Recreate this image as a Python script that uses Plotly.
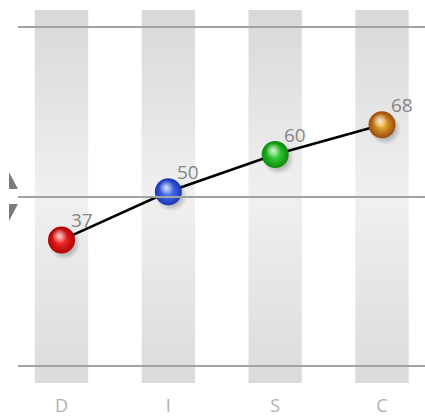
import plotly.graph_objects as go

categories = ["D", "I", "S", "C"]
values = [37, 50, 60, 68]
value_labels = [str(v) for v in values]
edge_colors = ["#b00000", "#1a34b4", "#0b8a0b", "#9c4a0a"]
center_colors = ["#ff3a3a", "#5a86ff", "#48e448", "#f4c03a"]

W, H = 425, 418
MB = 30
PH = H - MB  # plot height in px

# axis ranges (linear mapping of values to pixels)
XR = [-0.5757, 3.4025]
YR = [-2.78, 101.55]

def py_to_vy(p):
    return YR[1] - p / PH * (YR[1] - YR[0])

ux = (XR[1] - XR[0]) / W   # data units per px (x)
uy = (YR[1] - YR[0]) / PH  # data units per px (y)

fig = go.Figure()

# gradient bands
band_half = 0.25
for i in range(len(categories)):
    x0, x1 = i - band_half, i + band_half
    yb, yt = py_to_vy(383), py_to_vy(10)
    fig.add_trace(go.Scatter(
        x=[x0, x1, x1, x0, x0], y=[yb, yb, yt, yt, yb],
        mode="none", fill="toself",
        fillgradient=dict(type="vertical",
                          colorscale=[[0, "#dbdbdb"], [0.5, "#f0f0f0"], [1, "#d8d8d8"]]),
        hoverinfo="skip", showlegend=False))

# horizontal reference lines
for p in (27, 197, 366):
    fig.add_shape(type="line", xref="paper", yref="y",
                  x0=18 / W, x1=1, y0=py_to_vy(p), y1=py_to_vy(p),
                  line=dict(color="#a2a2a2", width=2), layer="above")

# triangles at left of the middle line
def pp(x, y):
    return f"{x / W:.5f},{(PH - y) / PH:.5f}"
fig.add_shape(type="path", xref="paper", yref="paper",
              path=f"M {pp(9,172)} L {pp(9,189)} L {pp(18,189)} Z",
              fillcolor="#7a7a7a", line=dict(width=0))
fig.add_shape(type="path", xref="paper", yref="paper",
              path=f"M {pp(9,204)} L {pp(18,204)} L {pp(9,221)} Z",
              fillcolor="#7a7a7a", line=dict(width=0))

xs = list(range(len(categories)))

# connecting line
fig.add_trace(go.Scatter(x=xs, y=values, mode="lines",
                         line=dict(color="#000000", width=2.6),
                         hoverinfo="skip", showlegend=False))

# shadows
fig.add_trace(go.Scatter(
    x=[x + 3 * ux for x in xs], y=[v - 4 * uy for v in values], mode="markers",
    marker=dict(size=32, color="rgba(0,0,0,0)", line=dict(width=0),
                gradient=dict(type="radial", color="rgba(0,0,0,0.55)")),
    hoverinfo="skip", showlegend=False))

# spheres
fig.add_trace(go.Scatter(
    x=xs, y=values, mode="markers",
    marker=dict(size=27, color=edge_colors, line=dict(width=0),
                gradient=dict(type="radial", color=center_colors)),
    hoverinfo="skip", showlegend=False))

# highlights
fig.add_trace(go.Scatter(
    x=[x - 2 * ux for x in xs], y=[v + 4 * uy for v in values], mode="markers",
    marker=dict(size=15, color="rgba(255,255,255,0)", line=dict(width=0),
                gradient=dict(type="radial", color="rgba(255,255,255,0.8)")),
    hoverinfo="skip", showlegend=False))

# value labels
for x, v, t in zip(xs, values, value_labels):
    fig.add_annotation(x=x, y=v, text=t, showarrow=False,
                       xshift=20, yshift=20,
                       font=dict(family="Open Sans", size=19, color="#858585"))

fig.update_layout(
    width=W, height=H,
    margin=dict(l=0, r=0, t=0, b=MB, autoexpand=False),
    paper_bgcolor="#ffffff", plot_bgcolor="#ffffff",
    showlegend=False,
    xaxis=dict(range=XR, tickvals=xs, ticktext=categories,
               showgrid=False, zeroline=False, showline=False, ticks="",
               ticklabelstandoff=5, automargin=False,
               tickfont=dict(family="Open Sans", size=18, color="#b0b0b0"),
               fixedrange=True),
    yaxis=dict(range=YR, showgrid=False, zeroline=False, showline=False,
               showticklabels=False, ticks="", fixedrange=True, automargin=False),
)

fig.write_html("out.html", config={"displayModeBar": False},
               post_script="document.body.style.margin='0';document.body.style.overflow='hidden';")
